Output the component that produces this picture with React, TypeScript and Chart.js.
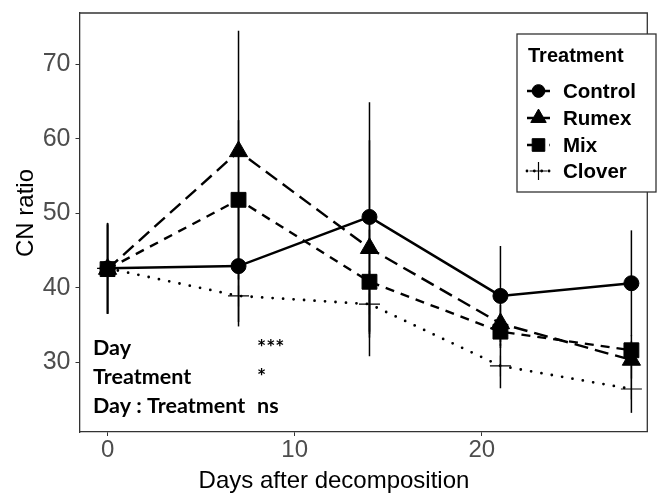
import React, { useEffect, useRef } from "react";
import { Chart, registerables } from "chart.js";
import { drawPoint } from "chart.js/helpers";

Chart.register(...registerables);

// Sampling days and treatment names
const days = [0, 7, 14, 21, 28];
const treatments = ["Control", "Rumex", "Mix", "Clover"];

// Mean CN ratio per treatment
const controlMean = [42.6, 42.9, 49.5, 38.9, 40.6];
const rumexMean = [42.5, 58.3, 45.3, 35.2, 30.3];
const mixMean = [42.5, 51.8, 40.8, 34.1, 31.6];
const cloverMean = [42.6, 38.9, 37.8, 29.5, 26.4];

// Error bar half-widths
const controlErr = [6.1, 8.1, 15.4, 6.7, 7.1];
const rumexErr = [6.0, 16.2, 14.5, 2.5, 2.5];
const mixErr = [6.0, 10.7, 7.0, 2.2, 2.0];
const cloverErr = [6.1, 3.5, 4.5, 3.0, 3.2];

// Axis ticks
const xTicks = [0, 10, 20];
const yTicks = [30, 40, 50, 60, 70];

// Statistical summary
const statTerms = ["Day", "Treatment", "Day : Treatment"];
const statMarks = ["***", "*", "ns"];

const means = [controlMean, rumexMean, mixMean, cloverMean];
const errs = [controlErr, rumexErr, mixErr, cloverErr];

type Style = {
  dash: number[];
  width: number;
  cap: CanvasLineCap;
  point: any;
  radius: number;
  pointBorder: number;
};

const styles: Style[] = [
  { dash: [], width: 2.5, cap: "butt", point: "circle", radius: 7.5, pointBorder: 1 },
  { dash: [14, 7], width: 2.4, cap: "butt", point: "triangle", radius: 10.5, pointBorder: 1 },
  { dash: [9, 7], width: 2.4, cap: "butt", point: "rect", radius: 10.5, pointBorder: 1 },
  { dash: [0, 10.5], width: 2.8, cap: "round", point: "cross", radius: 10.5, pointBorder: 1.2 },
];

const AXIS_FONT = "'Liberation Sans', Arial, sans-serif";
const FRAME = "#333333";

const errorBars = {
  id: "errorBars",
  afterDatasetsDraw(chart: any) {
    const { ctx } = chart;
    const x = chart.scales.x;
    const y = chart.scales.y;
    ctx.save();
    ctx.strokeStyle = "#000";
    ctx.lineWidth = 1.5;
    means.forEach((m, s) => {
      days.forEach((d, i) => {
        const px = x.getPixelForValue(d);
        ctx.beginPath();
        ctx.moveTo(px, y.getPixelForValue(m[i] + errs[s][i]));
        ctx.lineTo(px, y.getPixelForValue(m[i] - errs[s][i]));
        ctx.stroke();
      });
    });
    ctx.restore();
  },
};

const decorations = {
  id: "decorations",
  afterDraw(chart: any) {
    const { ctx, chartArea } = chart;
    ctx.save();

    // panel frame: top and right edges
    ctx.strokeStyle = FRAME;
    ctx.lineWidth = 1.3;
    ctx.beginPath();
    ctx.moveTo(chartArea.left, chartArea.top);
    ctx.lineTo(chartArea.right, chartArea.top);
    ctx.lineTo(chartArea.right, chartArea.bottom);
    ctx.stroke();

    // axis titles
    ctx.fillStyle = "#000";
    ctx.font = `24px ${AXIS_FONT}`;
    ctx.textAlign = "center";
    ctx.textBaseline = "alphabetic";
    ctx.fillText("Days after decomposition", 334, 488);
    ctx.save();
    ctx.translate(33, 213);
    ctx.rotate(-Math.PI / 2);
    ctx.fillText("CN ratio", 0, 0);
    ctx.restore();

    // significance summary
    ctx.font = "bold 21.5px Lato, sans-serif";
    ctx.textAlign = "left";
    const base = [355, 384, 413];
    statTerms.forEach((t, i) => {
      ctx.fillText(t, 93, base[i]);
      ctx.fillText(statMarks[i], 257, base[i]);
    });

    // legend
    const bx = 517, by = 34, bw = 139, bh = 158;
    ctx.fillStyle = "#fff";
    ctx.fillRect(bx, by, bw, bh);
    ctx.strokeStyle = FRAME;
    ctx.lineWidth = 1.3;
    ctx.strokeRect(bx, by, bw, bh);
    ctx.fillStyle = "#000";
    ctx.font = `bold 20px ${AXIS_FONT}`;
    ctx.textBaseline = "middle";
    ctx.fillText("Treatment", 528, 56);
    const rows = [91, 118, 145, 171];
    treatments.forEach((name, i) => {
      const st = styles[i];
      const cy = rows[i];
      ctx.save();
      ctx.strokeStyle = "#000";
      ctx.lineWidth = st.width;
      ctx.lineCap = st.cap;
      ctx.setLineDash(st.dash.length ? st.dash.map((v) => v * 0.7) : []);
      ctx.beginPath();
      ctx.moveTo(527, cy);
      ctx.lineTo(550, cy);
      ctx.stroke();
      ctx.restore();
      ctx.save();
      ctx.fillStyle = "#000";
      ctx.strokeStyle = "#000";
      ctx.lineWidth = st.pointBorder;
      drawPoint(ctx, { pointStyle: st.point, radius: st.radius * 0.85, rotation: 0, borderWidth: st.pointBorder } as any, 538.5, cy);
      ctx.restore();
      ctx.fillStyle = "#000";
      ctx.font = `bold 20.5px ${AXIS_FONT}`;
      ctx.fillText(name, 563, cy + 1);
    });

    ctx.restore();
  },
};

export default function App() {
  const ref = useRef<HTMLCanvasElement>(null);

  useEffect(() => {
    document.body.style.margin = "0";
    const canvas = ref.current;
    if (!canvas) return;

    const datasets = treatments.map((name, s) => {
      const st = styles[s];
      return {
        label: name,
        data: days.map((d, i) => ({ x: d, y: means[s][i] })),
        borderColor: "#000",
        backgroundColor: "#000",
        borderWidth: st.width,
        borderDash: st.dash,
        borderCapStyle: st.cap,
        pointStyle: st.point,
        pointRadius: st.radius,
        pointBorderWidth: st.pointBorder,
        pointBackgroundColor: "#000",
        pointBorderColor: "#000",
        tension: 0,
        fill: false,
      };
    });

    const chart = new Chart(canvas, {
      type: "line",
      data: { datasets: datasets as any },
      options: {
        responsive: false,
        animation: false,
        layout: { padding: { top: 13, right: 1, left: 0, bottom: 0 } },
        plugins: {
          legend: { display: false },
          tooltip: { enabled: false },
        },
        scales: {
          x: {
            type: "linear",
            min: -1.5,
            max: 28.85,
            afterBuildTicks: (scale: any) => {
              scale.ticks = xTicks.map((v) => ({ value: v }));
            },
            afterFit: (scale: any) => {
              scale.height = 66;
              scale.paddingLeft = 0;
              scale.paddingRight = 0;
            },
            grid: {
              drawOnChartArea: false,
              drawTicks: true,
              tickLength: 4,
              tickColor: FRAME,
              tickWidth: 1,
            },
            border: { display: true, color: FRAME, width: 1.3 },
            ticks: {
              color: "#4d4d4d",
              font: { family: AXIS_FONT, size: 24 },
              padding: 0,
              maxRotation: 0,
              callback: (v: any) => String(v),
            },
          },
          y: {
            type: "linear",
            min: 20.63,
            max: 76.88,
            afterBuildTicks: (scale: any) => {
              scale.ticks = yTicks.map((v) => ({ value: v }));
            },
            afterFit: (scale: any) => {
              scale.width = 79.5;
              scale.paddingTop = 0;
              scale.paddingBottom = 0;
            },
            grid: {
              drawOnChartArea: false,
              drawTicks: true,
              tickLength: 4,
              tickColor: FRAME,
              tickWidth: 1,
            },
            border: { display: true, color: FRAME, width: 1.3 },
            ticks: {
              color: "#4d4d4d",
              font: { family: AXIS_FONT, size: 25 },
              padding: 5,
              callback: (v: any) => String(v),
            },
          },
        },
      },
      plugins: [errorBars, decorations],
    });

    return () => chart.destroy();
  }, []);

  return <canvas ref={ref} width={659} height={498} style={{ display: "block" }} />;
}
